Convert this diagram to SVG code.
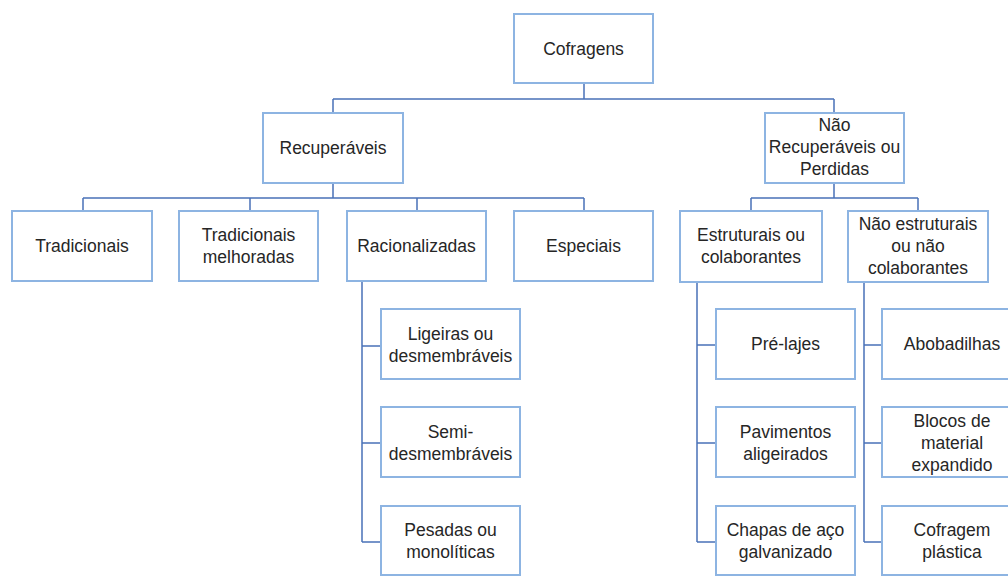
<svg xmlns="http://www.w3.org/2000/svg" width="1008" height="576" viewBox="0 0 1008 576">
<style>
.box{fill:#ffffff;stroke:#8DB4E2;stroke-width:2}
.t{font-family:"Liberation Sans",Arial,sans-serif;font-size:17.5px;fill:#262626;text-anchor:middle}
.c{fill:none;stroke:#4A72B8;stroke-width:1.5}
</style>
<rect width="1008" height="576" fill="#ffffff"/>
<g id="connectors">
<path class="c" d="M584 83V99M333 99H834M333 99V113M834 99V113"/>
<path class="c" d="M333 183V198M83 198H584M83 198V211M250 198V211M417 198V211M584 198V211"/>
<path class="c" d="M834 183V198M751 198H918M751 198V211M918 198V211"/>
<path class="c" d="M362 281V542M362 346H381M362 443H381M362 542H381"/>
<path class="c" d="M697 282V542M697 345H716M697 443H716M697 542H716"/>
<path class="c" d="M864 282V542M864 345H882M864 443H882M864 542H882"/>
</g>
<g id="n-cofragens"><rect class="box" x="514" y="14" width="139" height="69"/><text class="t" x="583.5" y="55">Cofragens</text></g>
<g id="n-recuperaveis"><rect class="box" x="263" y="113" width="140" height="70"/><text class="t" x="333" y="154">Recuperáveis</text></g>
<g id="n-nao-recuperaveis"><rect class="box" x="765" y="113" width="139" height="70"/><text class="t" x="834.5" y="131">Não</text><text class="t" x="834.5" y="153">Recuperáveis ou</text><text class="t" x="834.5" y="175">Perdidas</text></g>
<g id="n-tradicionais"><rect class="box" x="12" y="211" width="140" height="70"/><text class="t" x="82" y="252">Tradicionais</text></g>
<g id="n-tradicionais-melhoradas"><rect class="box" x="179" y="211" width="139" height="70"/><text class="t" x="248.5" y="241">Tradicionais</text><text class="t" x="248.5" y="263">melhoradas</text></g>
<g id="n-racionalizadas"><rect class="box" x="347" y="211" width="139" height="70"/><text class="t" x="416.5" y="252">Racionalizadas</text></g>
<g id="n-especiais"><rect class="box" x="514" y="211" width="139" height="70"/><text class="t" x="583.5" y="252">Especiais</text></g>
<g id="n-estruturais"><rect class="box" x="680" y="211" width="142" height="71"/><text class="t" x="751" y="241">Estruturais ou</text><text class="t" x="751" y="263">colaborantes</text></g>
<g id="n-nao-estruturais"><rect class="box" x="848" y="211" width="140" height="71"/><text class="t" x="918" y="230">Não estruturais</text><text class="t" x="918" y="252">ou não</text><text class="t" x="918" y="274">colaborantes</text></g>
<g id="n-ligeiras"><rect class="box" x="381" y="309" width="139" height="70"/><text class="t" x="450.5" y="340">Ligeiras ou</text><text class="t" x="450.5" y="362">desmembráveis</text></g>
<g id="n-semi"><rect class="box" x="381" y="407" width="139" height="70"/><text class="t" x="450.5" y="438">Semi-</text><text class="t" x="450.5" y="460">desmembráveis</text></g>
<g id="n-pesadas"><rect class="box" x="381" y="506" width="139" height="69"/><text class="t" x="450.5" y="536">Pesadas ou</text><text class="t" x="450.5" y="558">monolíticas</text></g>
<g id="n-pre-lajes"><rect class="box" x="716" y="309" width="139" height="70"/><text class="t" x="785.5" y="350">Pré-lajes</text></g>
<g id="n-pavimentos"><rect class="box" x="716" y="407" width="139" height="70"/><text class="t" x="785.5" y="438">Pavimentos</text><text class="t" x="785.5" y="460">aligeirados</text></g>
<g id="n-chapas"><rect class="box" x="716" y="506" width="139" height="69"/><text class="t" x="785.5" y="536">Chapas de aço</text><text class="t" x="785.5" y="558">galvanizado</text></g>
<g id="n-abobadilhas"><rect class="box" x="882" y="309" width="140" height="70"/><text class="t" x="952" y="350">Abobadilhas</text></g>
<g id="n-blocos"><rect class="box" x="882" y="407" width="140" height="70"/><text class="t" x="952" y="427">Blocos de</text><text class="t" x="952" y="449">material</text><text class="t" x="952" y="471">expandido</text></g>
<g id="n-cofragem-plastica"><rect class="box" x="882" y="506" width="140" height="69"/><text class="t" x="952" y="536">Cofragem</text><text class="t" x="952" y="558">plástica</text></g>
</svg>
